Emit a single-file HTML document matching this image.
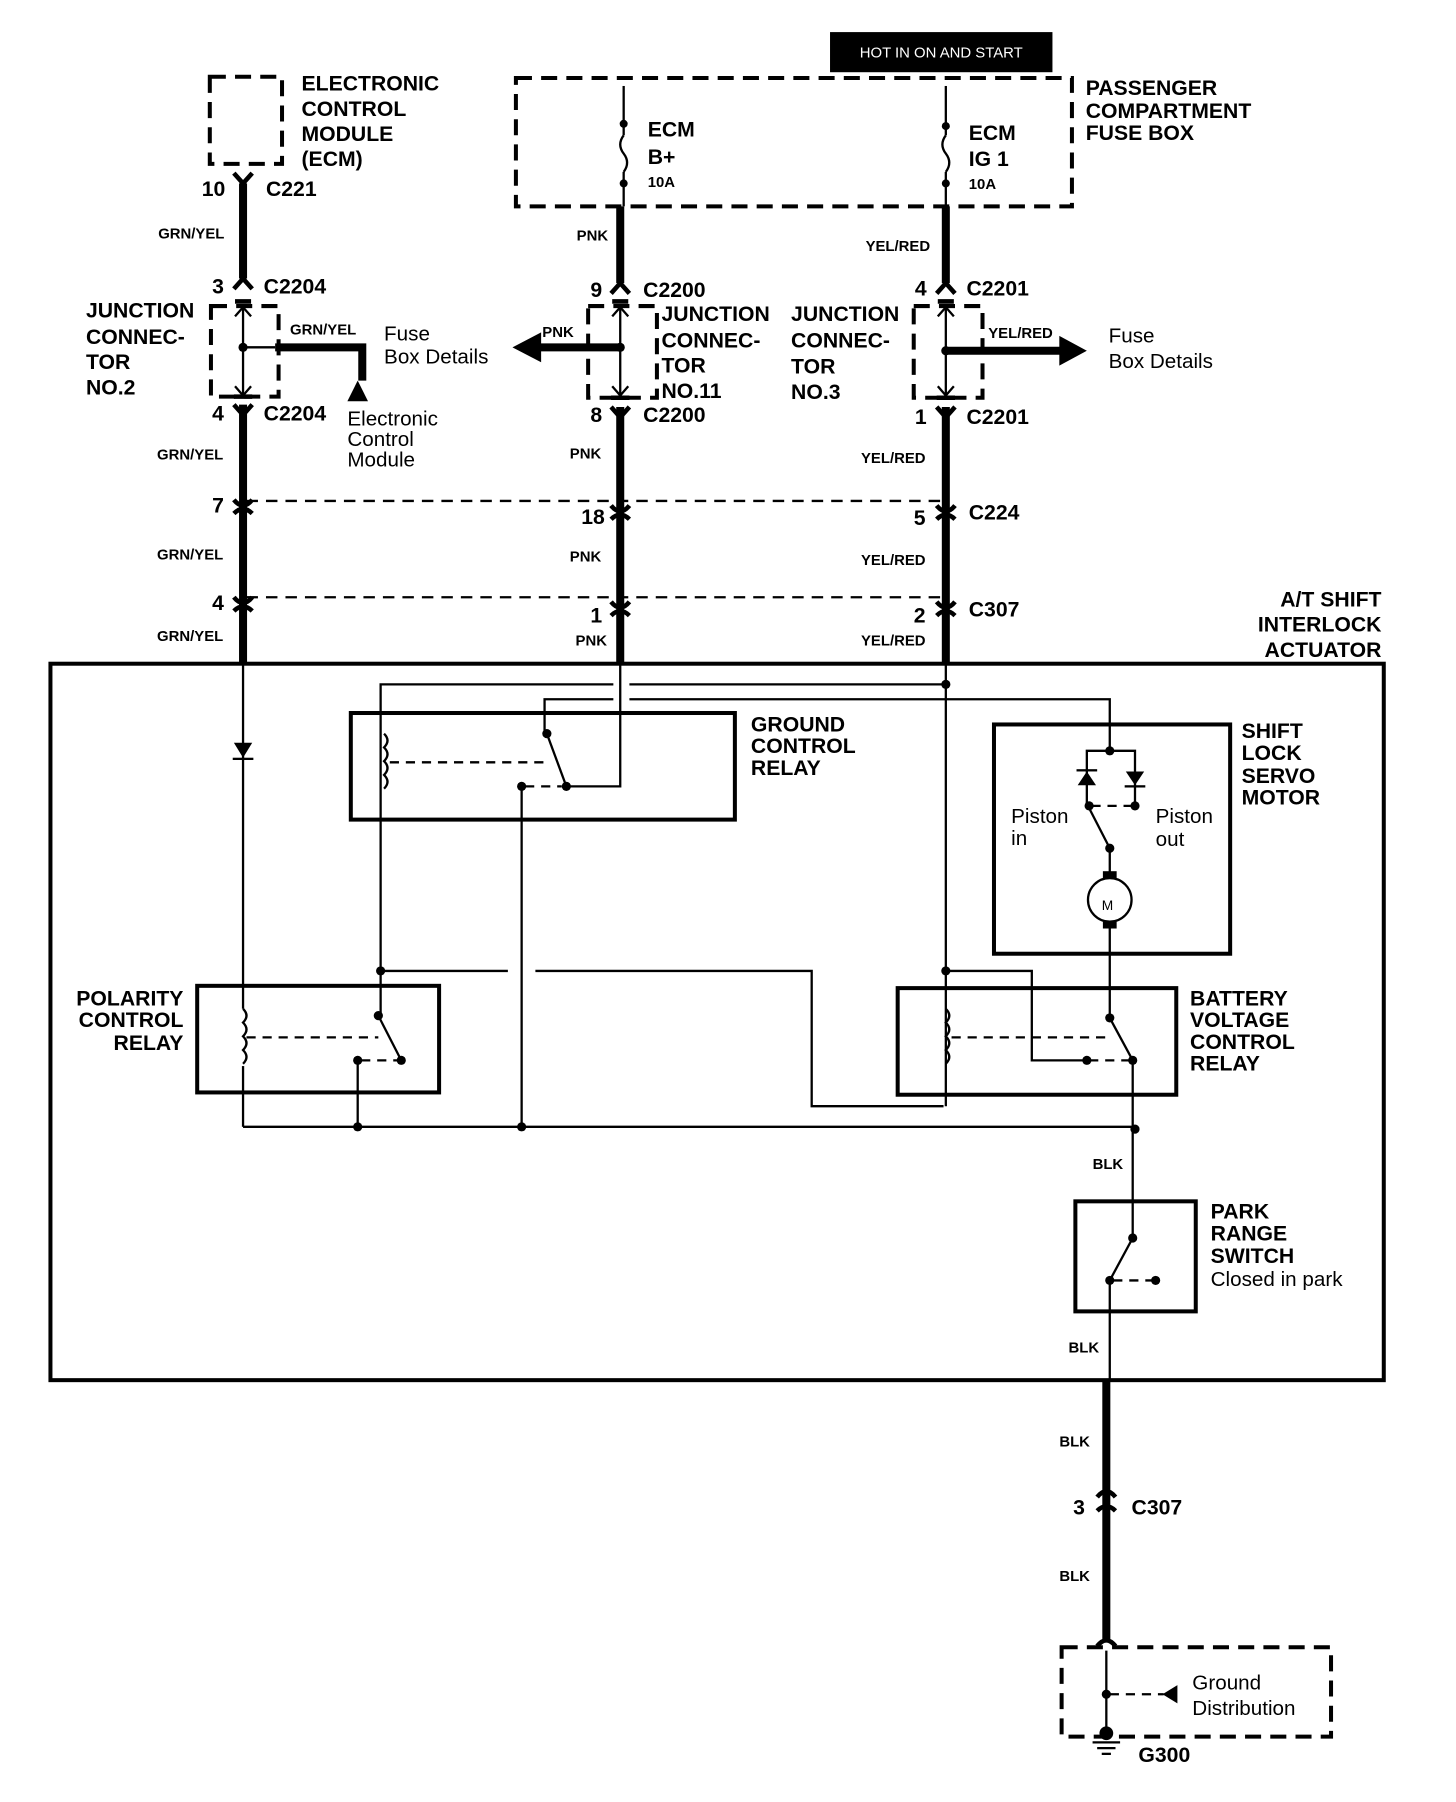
<!DOCTYPE html>
<html><head><meta charset="utf-8"><style>
html,body{margin:0;padding:0;background:#fff}
svg{display:block}
text{font-family:"Liberation Sans",Arial,sans-serif;fill:#000}
.b{font-weight:bold;font-size:18.5px}
.s{font-weight:bold;font-size:13px}
.n{font-size:18px}
</style></head><body>
<svg width="1456" height="1802" viewBox="0 0 1270 1572" preserveAspectRatio="none" xmlns="http://www.w3.org/2000/svg">
<rect width="1270" height="1572" fill="#fff"/>
<g fill="none" stroke="#000" stroke-linecap="butt">
<g stroke-width="3.5" stroke-dasharray="14 8">
<rect x="183" y="67" width="63" height="76"/>
<rect x="450" y="68" width="485" height="112"/>
<rect x="184" y="267" width="59" height="79"/>
<rect x="513" y="267" width="60" height="80"/>
<rect x="797" y="267" width="60" height="80"/>
<rect x="926" y="1437" width="235" height="78"/>
</g>
<g stroke-width="7">
<line x1="212" y1="160" x2="212" y2="243"/>
<line x1="212" y1="353" x2="212" y2="578"/>
<line x1="541" y1="180" x2="541" y2="247"/>
<line x1="541" y1="355" x2="541" y2="578"/>
<line x1="825" y1="180" x2="825" y2="247"/>
<line x1="825" y1="355" x2="825" y2="578"/>
<path d="M240 303 H316 V332"/>
<line x1="541" y1="303" x2="470" y2="303"/>
<line x1="825" y1="306" x2="930" y2="306"/>
<line x1="965" y1="1204" x2="965" y2="1430"/>
</g>
<g stroke-width="2">
<line x1="544" y1="75" x2="544" y2="118"/>
<line x1="544" y1="150" x2="544" y2="180"/>
<path d="M544 118 q-6 8 0 16 q6 8 0 16"/>
<line x1="825" y1="75" x2="825" y2="118"/>
<line x1="825" y1="150" x2="825" y2="180"/>
<path d="M825 118 q-6 8 0 16 q6 8 0 16"/>
<line x1="212" y1="268" x2="212" y2="345"/><line x1="212" y1="303" x2="240" y2="303"/>
<line x1="541" y1="268" x2="541" y2="345"/><line x1="513" y1="303" x2="541" y2="303"/>
<line x1="825" y1="268" x2="825" y2="345"/><line x1="825" y1="306" x2="855" y2="306"/>
<path d="M205 276 L212 268 L219 276 M205 337 L212 345 L219 337"/>
<path d="M534 276 L541 268 L548 276 M534 337 L541 345 L548 337"/>
<path d="M818 276 L825 268 L832 276 M818 337 L825 345 L832 337"/>
</g>
<g stroke-width="4">
<path d="M204 151 L212 160 L220 151"/>
<path d="M204 252 L212 243 L220 252"/>
<path d="M205 263 H219"/>
<path d="M534 263 H548"/><path d="M818 263 H832"/>
<path d="M204 346 H220"/><path d="M533 347 H549"/><path d="M817 347 H833"/>
<path d="M533 256 L541 247 L549 256"/>
<path d="M817 256 L825 247 L833 256"/>
<path d="M204 353 L212 362 L220 353"/>
<path d="M533 355 L541 364 L549 355"/>
<path d="M817 355 L825 364 L833 355"/>
<path d="M204 436 q8 10 16 0 M204 448 q8 -8 16 0"/>
<path d="M533 441 q8 10 16 0 M533 453 q8 -8 16 0"/>
<path d="M817 441 q8 10 16 0 M817 453 q8 -8 16 0"/>
<path d="M204 521 q8 10 16 0 M204 533 q8 -8 16 0"/>
<path d="M533 525 q8 10 16 0 M533 537 q8 -8 16 0"/>
<path d="M817 525 q8 10 16 0 M817 537 q8 -8 16 0"/>
<path d="M957 1306 q8 -10 16 0 M957 1318 q8 -8 16 0"/>
<path d="M957 1436 q8 -10 16 0"/>
</g>
<g stroke-width="2" stroke-dasharray="10 7">
<line x1="215" y1="437" x2="822" y2="437"/>
<line x1="215" y1="521" x2="822" y2="521"/>
</g>
<rect x="44" y="579" width="1163" height="625" stroke-width="3.5"/>
<g stroke-width="3.5">
<rect x="306" y="622" width="335" height="93"/>
<rect x="172" y="860" width="211" height="93"/>
<rect x="783" y="862" width="243" height="93"/>
<rect x="867" y="632" width="206" height="200"/>
<rect x="938" y="1048" width="105" height="96"/>
</g>
<g stroke-width="2">
<line x1="212" y1="578" x2="212" y2="880"/>
<line x1="212" y1="930" x2="212" y2="983"/>
<line x1="212" y1="983" x2="990" y2="983"/>
<path d="M332 847 V597 H535 M549 597 H825"/>
<path d="M475 640 V610 H535 M549 610 H968 V655"/>
<path d="M541 578 V686 H494"/>
<path d="M335 640 q6 6 0 12 q6 6 0 12 q6 6 0 12 q6 6 0 12" />
<line x1="477" y1="640" x2="494" y2="686"/>
<line x1="455" y1="686" x2="455" y2="983"/>
<path d="M332 847 V886"/>
<path d="M332 847 H443 M467 847 H708 V965 H823"/>
<line x1="330" y1="886" x2="350" y2="925"/>
<line x1="312" y1="925" x2="312" y2="983"/>
<path d="M212 880 q6 6 0 12 q6 6 0 12 q6 6 0 12 q6 6 0 12"/>
<line x1="825" y1="578" x2="825" y2="965"/>
<path d="M825 880 q6 6 0 12 q6 6 0 12 q6 6 0 12 q6 6 0 12"/>
<path d="M825 847 H900 V925 H948"/>
<path d="M968 805 V888"/>
<line x1="968" y1="888" x2="988" y2="925"/>
<line x1="988" y1="925" x2="988" y2="1080"/>
<line x1="988" y1="1080" x2="968" y2="1117"/>
<line x1="968" y1="1117" x2="968" y2="1204"/>
<path d="M948 703 V655 H990 V703"/>
<line x1="950" y1="705" x2="968" y2="740"/>
<line x1="968" y1="740" x2="968" y2="765"/>
<circle cx="968" cy="785" r="19"/>
<line x1="965" y1="1440" x2="965" y2="1515"/>
</g>
<g stroke-width="2" stroke-dasharray="8 6">
<line x1="340" y1="665" x2="475" y2="665"/>
<line x1="458" y1="686" x2="490" y2="686"/>
<line x1="215" y1="905" x2="330" y2="905"/>
<line x1="315" y1="925" x2="348" y2="925"/>
<line x1="830" y1="905" x2="968" y2="905"/>
<line x1="950" y1="925" x2="985" y2="925"/>
<line x1="952" y1="703" x2="988" y2="703"/>
<line x1="971" y1="1117" x2="1006" y2="1117"/>
<line x1="968" y1="1478" x2="1015" y2="1478"/>
</g>
</g>
<g fill="#000">
<rect x="724" y="28" width="194" height="35"/>
<polygon points="447,303 472,290 472,316"/>
<polygon points="948,306 924,293 924,319"/>
<polygon points="312,332 303,350 321,350"/>
<polygon points="204,648 220,648 212,661"/><rect x="203" y="661" width="18" height="2"/>
<polygon points="940,685 956,685 948,673"/><rect x="939" y="671" width="18" height="2"/>
<polygon points="982,673 998,673 990,685"/><rect x="981" y="685" width="18" height="2"/>
<polygon points="1027,1470 1027,1486 1014,1478"/>
<rect x="962" y="760" width="12" height="6"/><rect x="962" y="804" width="12" height="6"/>
<circle cx="544" cy="108" r="3.5"/><circle cx="544" cy="160" r="3.5"/>
<circle cx="825" cy="110" r="3.5"/><circle cx="825" cy="160" r="3.5"/>
<circle cx="212" cy="303" r="4"/><circle cx="541" cy="303" r="4"/><circle cx="825" cy="306" r="4"/>
<circle cx="825" cy="597" r="4"/>
<circle cx="477" cy="640" r="4"/><circle cx="494" cy="686" r="4"/><circle cx="455" cy="686" r="4"/>
<circle cx="332" cy="847" r="4"/><circle cx="330" cy="886" r="4"/><circle cx="350" cy="925" r="4"/><circle cx="312" cy="925" r="4"/>
<circle cx="312" cy="983" r="4"/><circle cx="455" cy="983" r="4"/><circle cx="990" cy="985" r="4"/>
<circle cx="825" cy="847" r="4"/><circle cx="968" cy="888" r="4"/><circle cx="988" cy="925" r="4"/><circle cx="948" cy="925" r="4"/>
<circle cx="968" cy="655" r="4"/><circle cx="950" cy="703" r="4"/><circle cx="990" cy="703" r="4"/><circle cx="968" cy="740" r="4"/>
<circle cx="988" cy="1080" r="4"/><circle cx="968" cy="1117" r="4"/><circle cx="1008" cy="1117" r="4"/>
<circle cx="965" cy="1478" r="4"/><circle cx="965" cy="1512" r="6"/>
</g>
<g stroke="#000" stroke-width="2"><line x1="953" y1="1520" x2="977" y2="1520"/><line x1="957" y1="1525" x2="973" y2="1525"/><line x1="961" y1="1530" x2="969" y2="1530"/></g>
<text x="821" y="50" text-anchor="middle" font-size="13" style="fill:#fff">HOT IN ON AND START</text>
<g class="b">
<text x="263" y="79">ELECTRONIC</text><text x="263" y="101">CONTROL</text><text x="263" y="123">MODULE</text><text x="263" y="145">(ECM)</text>
<text x="565" y="119">ECM</text><text x="565" y="143">B+</text>
<text x="845" y="122">ECM</text><text x="845" y="145">IG 1</text>
<text x="947" y="83">PASSENGER</text><text x="947" y="103">COMPARTMENT</text><text x="947" y="122">FUSE BOX</text>
<text x="176" y="171">10</text><text x="232" y="171">C221</text>
<text x="185" y="256">3</text><text x="230" y="256">C2204</text>
<text x="75" y="277">JUNCTION</text><text x="75" y="300">CONNEC-</text><text x="75" y="322">TOR</text><text x="75" y="344">NO.2</text>
<text x="185" y="367">4</text><text x="230" y="367">C2204</text>
<text x="185" y="447">7</text><text x="185" y="532">4</text>
<text x="515" y="259">9</text><text x="561" y="259">C2200</text>
<text x="577" y="280">JUNCTION</text><text x="577" y="303">CONNEC-</text><text x="577" y="325">TOR</text><text x="577" y="347">NO.11</text>
<text x="515" y="368">8</text><text x="561" y="368">C2200</text>
<text x="507" y="457">18</text><text x="515" y="543">1</text>
<text x="690" y="280">JUNCTION</text><text x="690" y="303">CONNEC-</text><text x="690" y="326">TOR</text><text x="690" y="348">NO.3</text>
<text x="798" y="258">4</text><text x="843" y="258">C2201</text>
<text x="798" y="370">1</text><text x="843" y="370">C2201</text>
<text x="797" y="458">5</text><text x="845" y="453">C224</text>
<text x="797" y="543">2</text><text x="845" y="538">C307</text>
<text x="1205" y="529" text-anchor="end">A/T SHIFT</text><text x="1205" y="551" text-anchor="end">INTERLOCK</text><text x="1205" y="573" text-anchor="end">ACTUATOR</text>
<text x="655" y="638">GROUND</text><text x="655" y="657">CONTROL</text><text x="655" y="676">RELAY</text>
<text x="1083" y="644">SHIFT</text><text x="1083" y="663">LOCK</text><text x="1083" y="683">SERVO</text><text x="1083" y="702">MOTOR</text>
<text x="160" y="877" text-anchor="end">POLARITY</text><text x="160" y="896" text-anchor="end">CONTROL</text><text x="160" y="916" text-anchor="end">RELAY</text>
<text x="1038" y="877">BATTERY</text><text x="1038" y="896">VOLTAGE</text><text x="1038" y="915">CONTROL</text><text x="1038" y="934">RELAY</text>
<text x="1056" y="1063">PARK</text><text x="1056" y="1082">RANGE</text><text x="1056" y="1102">SWITCH</text>
<text x="936" y="1321">3</text><text x="987" y="1321">C307</text>
<text x="993" y="1537">G300</text>
</g>
<g class="n">
<text x="335" y="297">Fuse</text><text x="335" y="317">Box Details</text>
<text x="303" y="371">Electronic</text><text x="303" y="389">Control</text><text x="303" y="407">Module</text>
<text x="967" y="299">Fuse</text><text x="967" y="321">Box Details</text>
<text x="882" y="718">Piston</text><text x="882" y="737">in</text>
<text x="1008" y="718">Piston</text><text x="1008" y="738">out</text>
<text x="1056" y="1122">Closed in park</text>
<text x="1040" y="1474">Ground</text><text x="1040" y="1496">Distribution</text>
</g>
<text x="966" y="794" font-size="12" text-anchor="middle">M</text>
<g class="s">
<text x="565" y="163">10A</text><text x="845" y="165">10A</text>
<text x="138" y="208">GRN/YEL</text><text x="253" y="292">GRN/YEL</text>
<text x="137" y="401">GRN/YEL</text><text x="137" y="488">GRN/YEL</text><text x="137" y="559">GRN/YEL</text>
<text x="503" y="210">PNK</text><text x="473" y="294">PNK</text><text x="497" y="400">PNK</text><text x="497" y="490">PNK</text><text x="502" y="563">PNK</text>
<text x="755" y="219">YEL/RED</text><text x="862" y="295">YEL/RED</text><text x="751" y="404">YEL/RED</text><text x="751" y="493">YEL/RED</text><text x="751" y="563">YEL/RED</text>
<text x="953" y="1020">BLK</text><text x="932" y="1180">BLK</text><text x="924" y="1262">BLK</text><text x="924" y="1379">BLK</text>
</g>
</svg>
</body></html>
